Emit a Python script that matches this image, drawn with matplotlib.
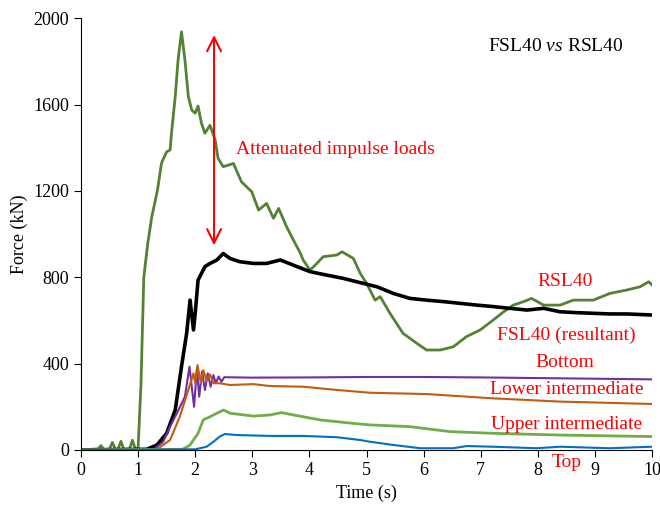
import matplotlib
matplotlib.use("Agg")
import matplotlib.pyplot as plt

plt.rcParams['font.family'] = ['Liberation Serif', 'DejaVu Serif']
plt.rcParams['mathtext.fontset'] = 'custom'
plt.rcParams['mathtext.rm'] = 'Liberation Serif'
plt.rcParams['mathtext.it'] = 'Liberation Serif:italic'

# FSL40 resultant (dark green)
t_fsl = [0, 0.3, 0.35, 0.4, 0.5, 0.55, 0.6, 0.65, 0.7, 0.75, 0.85, 0.9, 0.95, 1.0, 1.05, 1.1, 1.17,
         1.24, 1.34, 1.41, 1.50, 1.56, 1.59, 1.65, 1.70, 1.76, 1.82, 1.88, 1.94, 2.0, 2.05,
         2.11, 2.17, 2.26, 2.35, 2.40, 2.49, 2.67, 2.81, 2.99, 3.11, 3.25, 3.37, 3.46, 3.60,
         3.72, 3.84, 3.89, 4.01, 4.13, 4.24, 4.48, 4.57, 4.77, 4.89, 5.0, 5.15, 5.24, 5.41,
         5.64, 5.88, 6.05, 6.29, 6.52, 6.75, 6.99, 7.22, 7.40, 7.57, 7.75, 7.89, 8.10, 8.39,
         8.62, 8.97, 9.26, 9.56, 9.79, 9.94, 10.0]
f_fsl = [0, 5, 20, 3, 5, 35, 3, 5, 40, 3, 5, 45, 5, 8, 300, 800, 958,
         1080, 1204, 1329, 1381, 1389, 1481, 1636, 1806, 1937, 1806, 1636, 1574, 1560, 1593,
         1513, 1467, 1504, 1435, 1351, 1312, 1327, 1242, 1196, 1111, 1142, 1073, 1119, 1034,
         972, 912, 880, 833, 864, 895, 903, 918, 887, 818, 772, 694, 710, 633,
         540, 494, 463, 463, 478, 525, 556, 602, 640, 671, 687, 702, 671, 671,
         694, 694, 725, 741, 756, 779, 764]

# RSL40 (black)
t_rsl = [0, 1.15, 1.33, 1.50, 1.65, 1.76, 1.85, 1.91, 1.97, 2.00, 2.05, 2.11, 2.17, 2.26, 2.38,
         2.49, 2.61, 2.78, 3.02, 3.25, 3.49, 3.72, 4.01, 4.30, 4.59, 4.89, 5.18, 5.47, 5.76,
         6.05, 6.35, 6.64, 6.93, 7.22, 7.51, 7.81, 8.10, 8.39, 8.68, 8.97, 9.26, 9.56, 10.0]
f_rsl = [0, 3, 23, 77, 185, 386, 540, 694, 556, 633, 787, 818, 849, 864, 880,
         910, 887, 872, 864, 864, 880, 856, 826, 810, 795, 775, 756, 725, 702,
         694, 687, 679, 671, 664, 656, 648, 656, 640, 636, 633, 630, 630, 625]

# Bottom (purple)
t_bot = [0, 1.28, 1.44, 1.56, 1.68, 1.82, 1.90, 1.94, 1.98, 2.03, 2.07, 2.12, 2.17, 2.22,
         2.27, 2.32, 2.36, 2.41, 2.46, 2.51, 3.0, 4.0, 5.0, 6.0, 7.0, 8.0, 9.0, 10.0]
f_bot = [0, 3, 38, 108, 170, 247, 386, 293, 200, 378, 247, 363, 278, 355,
         293, 347, 309, 340, 316, 337, 335, 336, 338, 338, 336, 333, 330, 327]

# Lower intermediate (orange)
t_low = [0, 1.33, 1.56, 1.73, 1.88, 1.97, 2.00, 2.04, 2.10, 2.14, 2.20, 2.26, 2.32, 2.43,
         2.61, 3.02, 3.31, 3.89, 4.48, 5.06, 6.05, 7.22, 8.39, 10.0]
f_low = [0, 3, 46, 154, 278, 355, 310, 393, 309, 370, 320, 350, 309, 309,
         301, 305, 296, 293, 278, 265, 259, 239, 224, 213]

# Upper intermediate (light green)
t_upp = [0, 1.78, 1.91, 2.05, 2.14, 2.26, 2.40, 2.50, 2.61, 3.02, 3.31, 3.51, 3.72, 4.19,
         4.77, 5.06, 5.76, 6.46, 7.22, 8.39, 10.0]
f_upp = [0, 3, 23, 77, 139, 154, 173, 185, 170, 157, 162, 173, 162, 139,
         123, 116, 108, 85, 77, 69, 62]

# Top (blue)
t_top = [0, 2.0, 2.2, 2.32, 2.43, 2.52, 2.73, 3.31, 3.89, 4.48, 4.89, 5.06, 5.47, 5.94,
         6.52, 6.75, 7.22, 7.98, 8.39, 9.26, 10.0]
f_top = [0, 3, 15, 38, 62, 74, 69, 65, 65, 59, 46, 38, 23, 8,
         8, 18, 15, 8, 15, 8, 15]

fig = plt.figure(figsize=(6.6, 5.05), dpi=100)
ax = fig.add_axes([0.1227, 0.109, 0.8653, 0.855])

ax.plot(t_fsl, f_fsl, color='#548235', lw=2.0)
ax.plot(t_rsl, f_rsl, color='black', lw=2.6)
ax.plot(t_bot, f_bot, color='#7030a0', lw=1.5)
ax.plot(t_low, f_low, color='#c55a11', lw=1.5)
ax.plot(t_upp, f_upp, color='#70ad47', lw=2.0)
ax.plot(t_top, f_top, color='#0070c0', lw=1.5)

ax.set_xlim(0, 10)
ax.set_ylim(0, 2000)
ax.set_xticks(range(0, 11))
ax.set_yticks(range(0, 2001, 400))
ax.spines['top'].set_visible(False)
ax.spines['right'].set_visible(False)
ax.tick_params(direction='out', length=5, labelsize=13)
ax.set_xlabel('Time (s)', fontsize=13)
ax.set_ylabel('Force (kN)', fontsize=13)

ax.text(8.32, 1870, 'FSL40 $\\it{vs}$ RSL40', fontsize=14, ha='center', va='center')
ax.annotate('', xy=(2.33, 935), xytext=(2.33, 1935),
            arrowprops=dict(arrowstyle='<->', color='red', lw=1.5, mutation_scale=25))
ax.text(2.72, 1390, 'Attenuated impulse loads', color='red', fontsize=14, va='center')

red = 'red'
ax.text(8.48, 778, 'RSL40', color=red, fontsize=14, ha='center', va='center')
ax.text(8.5, 532, 'FSL40 (resultant)', color=red, fontsize=14, ha='center', va='center')
ax.text(8.48, 403, 'Bottom', color=red, fontsize=14, ha='center', va='center')
ax.text(8.5, 282, 'Lower intermediate', color=red, fontsize=14, ha='center', va='center')
ax.text(8.5, 120, 'Upper intermediate', color=red, fontsize=14, ha='center', va='center')
ax.text(8.51, -56, 'Top', color=red, fontsize=14, ha='center', va='center', clip_on=False)

fig.savefig('out.png', dpi=100)
